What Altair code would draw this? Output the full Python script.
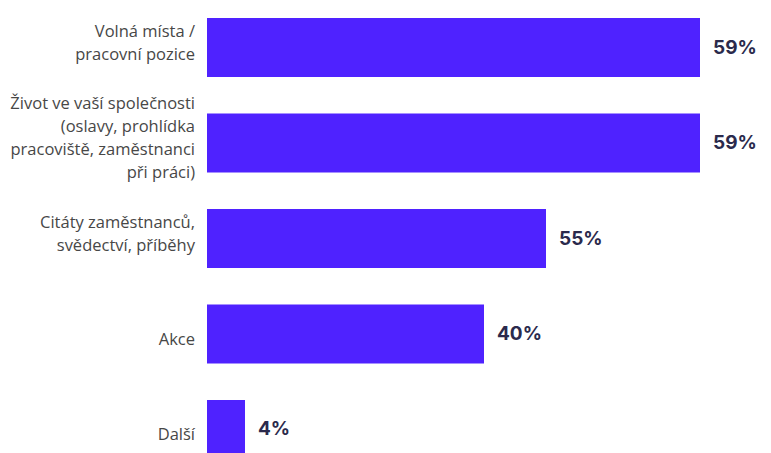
import altair as alt
import pandas as pd

categories = [
    "Volná místa /|pracovní pozice",
    "Život ve vaší společnosti|(oslavy, prohlídka|pracoviště, zaměstnanci|při práci)",
    "Citáty zaměstnanců,|svědectví, příběhy",
    "Akce",
    "Další",
]
values = [59, 59, 55, 40, 4]
# bar lengths as drawn in the picture (the source chart is not linear in the values)
bar_lengths = [493, 493, 339, 277, 38]

LINE_H = 23

df = pd.DataFrame({
    "category": categories,
    "value": values,
    "label": [f"{v}%" for v in values],
    "length": bar_lengths,
})

# one row per label line, so the multi-line labels can be centred on their bar
rows = []
for cat in categories:
    lines = cat.split("|")
    n = len(lines)
    adj = -4.5 if n > 1 else 6
    for k, line in enumerate(lines):
        rows.append({"category": cat, "line": line,
                     "dy": round((k - (n - 1) / 2) * LINE_H + adj)})
lines_df = pd.DataFrame(rows)

y = alt.Y(
    "category:N",
    sort=categories,
    title=None,
    scale=alt.Scale(paddingInner=0.382, paddingOuter=0.105),
    axis=None,
)
x = alt.X("length:Q", scale=alt.Scale(domain=[0, 556], nice=False, zero=True), axis=None)

bars = alt.Chart(df).mark_bar(color="#4F22FF", clip=True).encode(x=x, y=y)
values_text = alt.Chart(df).mark_text(
    align="left", baseline="middle", dx=13,
    font="Inter", fontWeight=700, fontSize=19, color="#2B2A4C",
).encode(x=x, y=y, text="label:N")

label_layers = []
for d in sorted(lines_df["dy"].unique()):
    label_layers.append(
        alt.Chart(lines_df[lines_df["dy"] == d]).mark_text(
            align="right", baseline="middle", dy=float(d),
            font="Open Sans", fontSize=16.5, fontWeight=400, color="#474747",
        ).encode(x=alt.value(-12), y=y, text="line:N")
    )

chart = alt.layer(bars, values_text, *label_layers).properties(
    width=556,
    height=461,
    padding={"left": 199, "top": 0, "right": 0, "bottom": 0},
    autosize=alt.AutoSizeParams(type="none"),
).configure_view(stroke=None)

chart.save("out.html", embed_options={"renderer": "svg", "actions": False})
